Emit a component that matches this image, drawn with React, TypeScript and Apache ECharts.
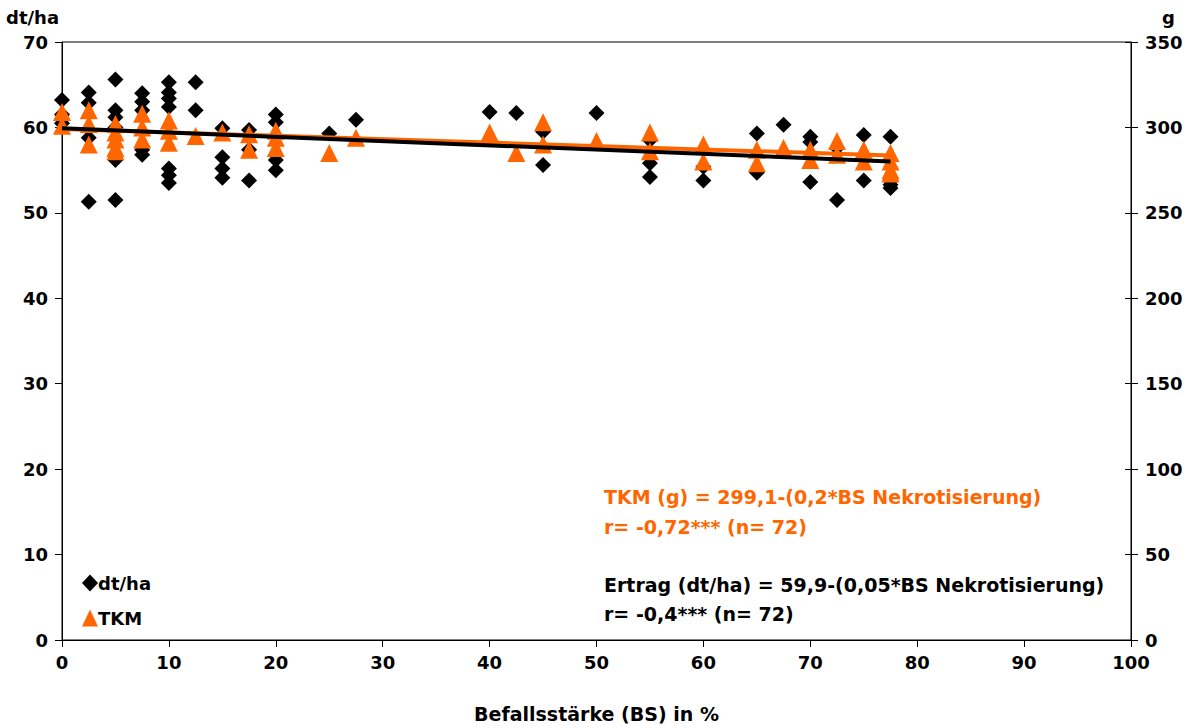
import React, { useEffect, useRef } from "react";
import * as echarts from "echarts";

// Befallsstärke (BS) in % and Ertrag (dt/ha)
const yieldX = [
  0, 0, 0,
  2.5, 2.5, 2.5, 2.5,
  5, 5, 5, 5, 5, 5,
  7.5, 7.5, 7.5, 7.5, 7.5,
  10, 10, 10, 10, 10, 10, 10,
  12.5, 12.5,
  15, 15, 15, 15,
  17.5, 17.5, 17.5,
  20, 20, 20, 20,
  25, 27.5, 40, 42.5, 45, 45, 50,
  55, 55, 55,
  60, 60,
  65, 65,
  67.5,
  70, 70, 70,
  72.5, 72.5,
  75, 75,
  77.5, 77.5, 77.5, 77.5,
];
const yieldY = [
  63.2, 60.5, 61.5,
  64.1, 62.9, 58.8, 51.3,
  65.6, 62.0, 61.2, 60.0, 56.2, 51.5,
  64.0, 63.0, 62.0, 57.4, 56.8,
  65.3, 64.1, 63.4, 62.4, 55.2, 54.4, 53.5,
  65.3, 62.0,
  59.9, 56.5, 55.2, 54.1,
  59.7, 57.4, 53.8,
  61.5, 60.6, 56.2, 55.0,
  59.3, 60.9, 61.8, 61.7, 59.5, 55.6, 61.7,
  58.5, 55.8, 54.2,
  55.4, 53.8,
  59.3, 54.7,
  60.3,
  58.9, 58.3, 53.6,
  57.6, 51.5,
  59.1, 53.8,
  58.9, 53.8, 53.3, 52.9,
];

// Tausendkornmasse TKM (g)
const tkmX = [
  0, 0,
  2.5, 2.5, 2.5,
  5, 5, 5, 5, 5,
  7.5, 7.5, 7.5,
  10, 10, 10,
  12.5,
  15,
  17.5, 17.5,
  20, 20, 20,
  25, 27.5, 40, 42.5, 45, 45, 50,
  55, 55,
  60, 60,
  65, 65,
  67.5,
  70, 70,
  72.5, 72.5,
  75, 75,
  77.5, 77.5, 77.5, 77.5,
];
const tkmY = [
  309, 301,
  310, 302, 290,
  302, 297, 293, 288, 286,
  308, 300, 293,
  304, 298, 291,
  295,
  297,
  296, 287,
  298, 294, 288,
  285, 294, 297, 285, 303, 290, 292,
  297, 286,
  290, 280,
  287, 279,
  288,
  287, 281,
  292, 284,
  287, 280,
  285, 280, 275, 273,
];

// Regression: Ertrag = 59.9 - 0.05*BS ; TKM = 299.1 - 0.2*BS
const trendRange = [0, 77.5];
const yieldCoef = [59.9, 0.05];
const tkmCoef = [299.1, 0.2];

const xTicks = [0, 100, 10];
const leftTicks = [0, 70, 10];
const rightTicks = [0, 350, 50];

const FONT = "'DejaVu Sans', 'Liberation Sans', Arial, sans-serif";
const ORANGE = "#FF6600";

export default function App() {
  const ref = useRef<HTMLDivElement>(null);
  useEffect(() => {
    if (!ref.current) return;
    const chart = echarts.init(ref.current, null, { renderer: "svg" });
    const yieldData = yieldX.map((x, i) => [x, yieldY[i]]);
    const tkmData = tkmX.map((x, i) => [x, tkmY[i]]);
    const yieldLine = trendRange.map((x) => [x, yieldCoef[0] - yieldCoef[1] * x]);
    const tkmLine = trendRange.map((x) => [x, tkmCoef[0] - tkmCoef[1] * x]);
    const labelStyle = { color: "#000", fontFamily: FONT, fontWeight: "bold" as const, fontSize: 18 };
    const txt = (text: string, x: number, y: number, fill: string, size = 19) => ({
      type: "text",
      x,
      y,
      style: { text, fill, fontFamily: FONT, fontWeight: "bold", fontSize: size, verticalAlign: "middle", align: "left" },
    });
    chart.setOption({
      animation: false,
      backgroundColor: "#fff",
      grid: {
        left: 62,
        right: 63,
        top: 42,
        bottom: 88,
        show: true,
        borderColor: "#000",
        borderWidth: 1,
        containLabel: false,
        outerBoundsMode: "none",
      },
      xAxis: {
        type: "value",
        min: xTicks[0],
        max: xTicks[1],
        interval: xTicks[2],
        name: "Befallsstärke (BS) in %",
        nameLocation: "middle",
        nameGap: 64,
        nameTextStyle: { ...labelStyle, fontSize: 19 },
        axisLine: { show: true, lineStyle: { color: "#000", width: 1 } },
        axisTick: { show: true, length: 7, lineStyle: { color: "#000" } },
        axisLabel: { ...labelStyle, margin: 13 },
        splitLine: { show: false },
      },
      yAxis: [
        {
          type: "value",
          min: leftTicks[0],
          max: leftTicks[1],
          interval: leftTicks[2],
          position: "left",
          axisLine: { show: true, lineStyle: { color: "#000", width: 1 } },
          axisTick: { show: true, length: 7, lineStyle: { color: "#000" } },
          axisLabel: { ...labelStyle, margin: 14 },
          splitLine: { show: false },
        },
        {
          type: "value",
          min: rightTicks[0],
          max: rightTicks[1],
          interval: rightTicks[2],
          position: "right",
          axisLine: { show: true, lineStyle: { color: "#000", width: 1 } },
          axisTick: { show: true, length: 7, lineStyle: { color: "#000" } },
          axisLabel: { ...labelStyle, margin: 14 },
          splitLine: { show: false },
        },
        {
          type: "value",
          min: rightTicks[0],
          max: rightTicks[1],
          interval: rightTicks[2],
          position: "right",
          axisLine: { show: false },
          axisTick: { show: true, inside: true, length: 6, lineStyle: { color: "#000" } },
          axisLabel: { show: false },
          splitLine: { show: false },
        },
      ],
      legend: {
        orient: "vertical",
        left: 77,
        top: 569,
        itemGap: 17,
        itemWidth: 16,
        itemHeight: 17,
        textStyle: { ...labelStyle, padding: [0, 0, 0, -5] },
        data: [
          { name: "dt/ha", icon: "diamond", itemStyle: { color: "#000", opacity: 1 } },
          { name: "TKM", icon: "triangle", itemStyle: { color: ORANGE, opacity: 1 } },
        ],
      },
      graphic: [
        txt("dt/ha", 6, 17, "#000", 18),
        txt("g", 1162, 17, "#000", 18),
        txt("TKM (g) = 299,1-(0,2*BS Nekrotisierung)", 604, 497, ORANGE),
        txt("r= -0,72*** (n= 72)", 604, 527, ORANGE),
        txt("Ertrag (dt/ha) = 59,9-(0,05*BS Nekrotisierung)", 604, 585, "#000"),
        txt("r= -0,4*** (n= 72)", 604, 614, "#000"),
      ],
      series: [
        {
          name: "dt/ha",
          type: "scatter",
          yAxisIndex: 0,
          symbol: "diamond",
          symbolSize: 16,
          itemStyle: { color: "#000", opacity: 1 },
          data: yieldData,
          z: 2,
        },
        {
          name: "TKM",
          type: "scatter",
          yAxisIndex: 1,
          symbol: "triangle",
          symbolSize: 18,
          itemStyle: { color: ORANGE, opacity: 1 },
          data: tkmData,
          z: 3,
        },
        {
          name: "TKM Trend",
          type: "line",
          yAxisIndex: 1,
          showSymbol: false,
          symbol: "none",
          lineStyle: { color: ORANGE, width: 4 },
          data: tkmLine,
          z: 4,
        },
        {
          name: "Ertrag Trend",
          type: "line",
          yAxisIndex: 0,
          showSymbol: false,
          symbol: "none",
          lineStyle: { color: "#000", width: 4 },
          data: yieldLine,
          z: 5,
        },
      ],
    });
    return () => chart.dispose();
  }, []);
  return <div ref={ref} style={{ width: 1194, height: 728, position: "absolute", left: 0, top: 0 }} />;
}
